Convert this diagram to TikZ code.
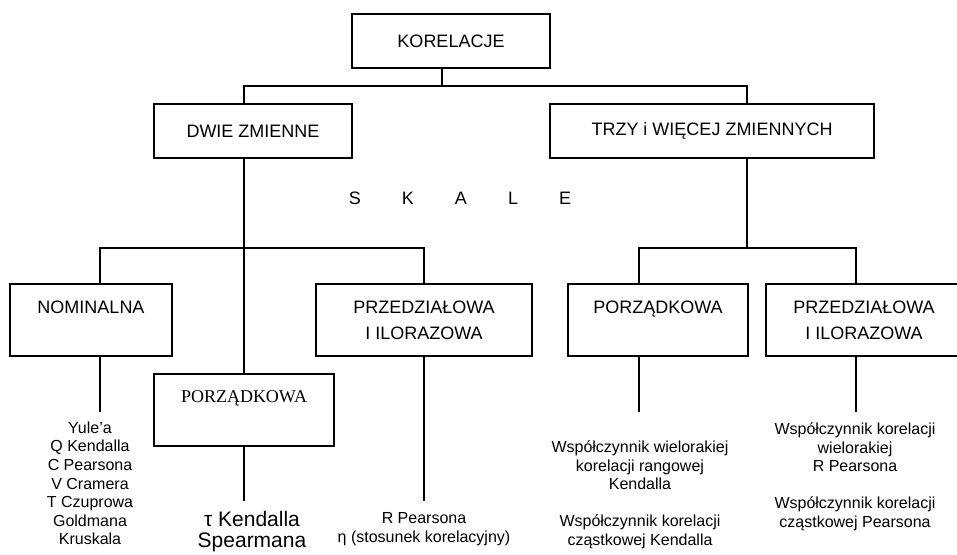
\documentclass[tikz,border=0pt]{standalone}
\usepackage{fontspec}
\setmainfont{Liberation Sans}
\newfontfamily\timesfont{Liberation Serif}
\tikzset{
  box/.style={draw, line width=1.3pt, inner sep=0pt, align=center,
    font=\fontsize{18pt}{26pt}\selectfont},
  list/.style={anchor=north, inner sep=0pt, align=center,
    font=\fontsize{16pt}{18.6pt}\selectfont},
}
\begin{document}
\begin{tikzpicture}[x=1pt,y=-1pt,line width=1.3pt]
  \useasboundingbox (0,0) rectangle (957,554);
  % boxes
  \node[box,minimum width=198pt,minimum height=54pt] (kor) at (451,41) {KORELACJE};
  \node[box,minimum width=198pt,minimum height=54pt] (dwie) at (253,131) {DWIE ZMIENNE};
  \node[box,minimum width=324pt,minimum height=54pt] (trzy) at (712,131) {TRZY i WIĘCEJ ZMIENNYCH};
  \node[box,minimum width=162pt,minimum height=72pt] (nom) at (91,320) {NOMINALNA\\~};
  \node[box,minimum width=180pt,minimum height=72pt,font=\timesfont\fontsize{18pt}{26pt}\selectfont] (porz1) at (244,410) {PORZĄDKOWA\\~};
  \node[box,minimum width=216pt,minimum height=72pt] (prz1) at (424,320) {PRZEDZIAŁOWA\\I ILORAZOWA};
  \node[box,minimum width=180pt,minimum height=72pt] (porz2) at (658,320) {PORZĄDKOWA\\~};
  \node[box,minimum width=196pt,minimum height=72pt] (prz2) at (864,320) {PRZEDZIAŁOWA\\I ILORAZOWA};
  \node[font=\fontsize{18pt}{22pt}\selectfont] (skale) at (460,198)
    {S\hspace{41pt}K\hspace{41pt}A\hspace{41pt}L\hspace{41pt}E};
  % bus points
  \coordinate (t) at (442,86);
  \coordinate (b0) at (244,86);
  \coordinate (b1) at (747,86);
  \coordinate (l0) at (100,248);
  \coordinate (l1) at (424,248);
  \coordinate (r0) at (639,248);
  \coordinate (r1) at (856,248);
  % connectors
  \draw (kor.south -| t) -- (t);
  \draw (dwie.north -| b0) -- (b0) -- (b1) -- (trzy.north -| b1);
  \draw (dwie.south -| b0) -- (porz1.north);
  \draw (nom.north -| l0) -- (l0) -- (l1) -- (prz1.north);
  \draw (trzy.south -| b1) -- (r0 -| b1);
  \draw (porz2.north -| r0) -- (r0) -- (r1) -- (prz2.north -| r1);
  \draw (nom.south -| l0) -- ++(0,55);
  \draw (porz1.south) -- ++(0,54);
  \draw (prz1.south) -- ++(0,144);
  \draw (porz2.south -| r0) -- ++(0,55);
  \draw (prz2.south -| r1) -- ++(0,55);
  % coefficients
  \node[list] (nomlist) at (90,421) {Yule'a\\Q Kendalla\\C Pearsona\\V Cramera\\T Czuprowa\\Goldmana\\Kruskala};
  \node[list,font=\fontsize{21pt}{21pt}\selectfont] (porz1list) at (252,511) {τ Kendalla\\Spearmana};
  \node[list] (prz1list) at (424,512) {R Pearsona\\η (stosunek korelacyjny)};
  \node[list] (porz2list) at (640,440) {Współczynnik wielorakiej\\korelacji rangowej\\Kendalla\\~\\Współczynnik korelacji\\cząstkowej Kendalla};
  \node[list] (prz2list) at (855,422) {Współczynnik korelacji\\wielorakiej\\R Pearsona\\~\\Współczynnik korelacji\\cząstkowej Pearsona};
\end{tikzpicture}
\end{document}
